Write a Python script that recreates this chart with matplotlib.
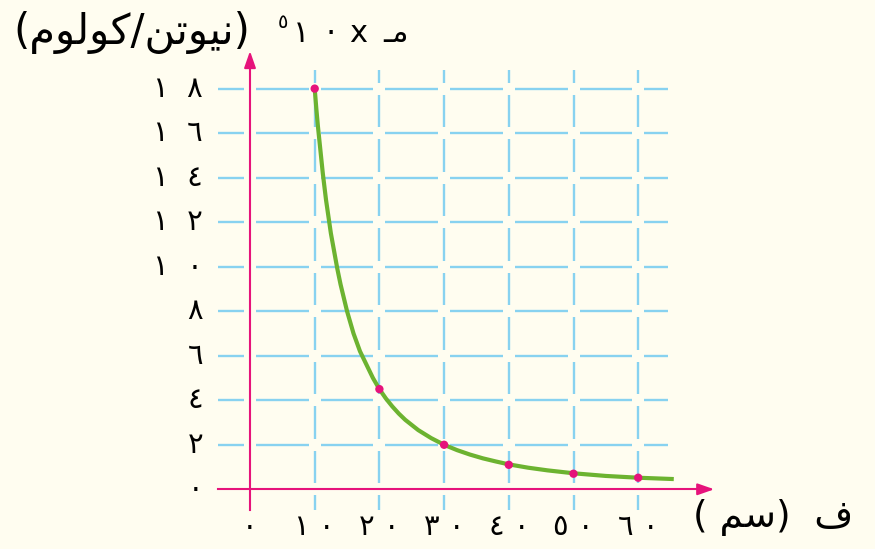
import numpy as np
import matplotlib
matplotlib.use('Agg')
import matplotlib.pyplot as plt

# 数据：距离(سم) 与 电场强度(×10^5 نيوتن/كولوم)
dist_pts = [10, 20, 30, 40, 50, 60]
field_pts = [18, 4.5, 2.0, 1.1, 0.7, 0.52]
# 曲线上读出的点
dist_curve = [10, 10.25, 10.5, 10.75, 11, 11.25, 11.5, 11.75, 12, 12.5, 13, 13.5, 14, 14.5, 15, 16, 17,
              18, 19, 20, 21, 22, 23, 24, 26, 28, 30, 32, 34, 36, 38, 40, 43, 46, 50, 55, 60, 65.5]
field_curve = [18, 17.1, 16.3, 15.6, 14.9, 14.2, 13.6, 13.0, 12.5, 11.5, 10.7, 9.9, 9.2, 8.6, 8.0,
               7.0, 6.2, 5.6, 5.0, 4.5, 4.08, 3.72, 3.4, 3.12, 2.66, 2.3, 2.0, 1.76, 1.56, 1.39, 1.25,
               1.12, 0.97, 0.85, 0.72, 0.6, 0.52, 0.46]
x_ticks = [0, 10, 20, 30, 40, 50, 60]
x_labels = ['٠', '١ ٠', '٢ ٠', '٣ ٠', '٤ ٠', '٥ ٠', '٦ ٠']
y_ticks = [0, 2, 4, 6, 8, 10, 12, 14, 16, 18]
y_labels = ['٠', '٢', '٤', '٦', '٨', '١ ٠', '١ ٢', '١ ٤', '١ ٦', '١ ٨']

# 颜色
bg = '#fffdf0'
grid_c = '#88d2f0'
pink = '#e6137b'
green = '#6cb330'

plt.rcParams['font.family'] = ['DejaVu Sans']

fig = plt.figure(figsize=(8.75, 5.49), dpi=100, facecolor=bg)
ax = fig.add_axes([0, 0, 1, 1])
ax.set_facecolor(bg)
ax.axis('off')
# 像素与数据对应：x 每10单位约64.7像素，y 每2单位约44.5像素
ax.set_xlim(-250 / 6.47, (875 - 250) / 6.47)
ax.set_ylim((489.3 - 549) / 22.26, 489.3 / 22.26)

# 网格（交点处留空）
gx = 6 / 6.47
gy = 6 / 22.26
x_left, x_right = -32 / 6.47, 418 / 6.47
y_bot, y_top = -21 / 22.26, 419 / 22.26
v_stops = [0] + x_ticks[1:]
h_stops = y_ticks
for xv in x_ticks[1:]:
    edges = [y_bot] + h_stops + [y_top]
    for a, b in zip(edges[:-1], edges[1:]):
        lo = a + gy if a in h_stops else a
        hi = b - gy if b in h_stops else b
        ax.plot([xv, xv], [lo, hi], color=grid_c, lw=1.7, solid_capstyle='butt', zorder=1)
for yv in y_ticks[1:]:
    edges = [x_left] + v_stops + [x_right]
    for a, b in zip(edges[:-1], edges[1:]):
        lo = a + gx if a in v_stops else a
        hi = b - gx if b in v_stops else b
        ax.plot([lo, hi], [yv, yv], color=grid_c, lw=1.7, solid_capstyle='butt', zorder=1)

# 坐标轴（带箭头）
ax.plot([x_left, 460 / 6.47], [0, 0], color=pink, lw=1.5, zorder=2)
ax.annotate('', xy=(467 / 6.47, 0), xytext=(445 / 6.47, 0),
            arrowprops=dict(arrowstyle='-|>,head_length=1.0,head_width=0.35', color=pink, lw=1.5))
ax.plot([0, 0], [y_bot, 425 / 22.26], color=pink, lw=1.5, zorder=2)
ax.annotate('', xy=(0, 441 / 22.26), xytext=(0, 420 / 22.26),
            arrowprops=dict(arrowstyle='-|>,head_length=1.0,head_width=0.35', color=pink, lw=1.5))

# 曲线与点
ax.plot(dist_curve, field_curve, color=green, lw=3, solid_capstyle='butt',
        solid_joinstyle='round', zorder=3)
ax.scatter(dist_pts, field_pts, s=36, color=pink, zorder=4, edgecolors='none')

# 刻度文字
for yv, lab in zip(y_ticks, y_labels):
    ax.text(-47 / 6.47, yv, lab.replace(' ', '  '), ha='right', va='center', fontsize=21)
for xv, lab in zip(x_ticks, x_labels):
    ax.text(xv, -38 / 22.26, lab, ha='center', va='center', fontsize=21)

# 轴标题
kulum = '\uFEE1\uFEEE\uFEDF\uFEEE\uFEDB'
newton = '\uFEE6\uFE97\uFEEE\uFEF4\uFEE7'
fig.text(13 / 875, 1 - 33 / 549, '(' + kulum + '/' + newton + ')', ha='left', va='center', fontsize=30)
fig.text(283 / 875, 1 - 22 / 549, '٥', ha='center', va='center', fontsize=14)
for px, s in [(301, '١'), (331, '٠'), (358, 'x'), (396, '\u0640\uFEE3')]:
    fig.text(px / 875, 1 - 33 / 549, s, ha='center', va='center', fontsize=22)
fig.text(853 / 875, 1 - 518 / 549, '( \uFEE2\uFEB3)  \uFED1', ha='right', va='center', fontsize=27)

fig.savefig('out.png', dpi=100, facecolor=bg)
